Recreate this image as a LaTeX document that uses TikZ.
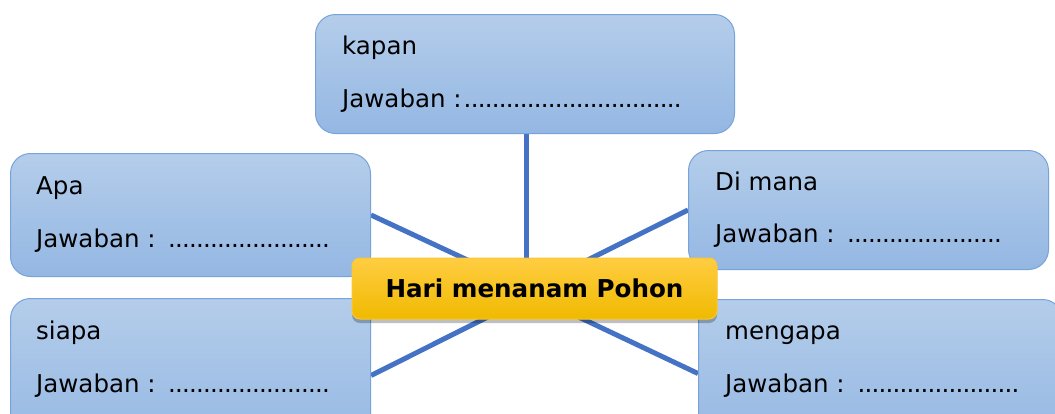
\documentclass[tikz,border=0pt]{standalone}
\usepackage{fontspec}
\setmainfont{DejaVu Sans}
\usetikzlibrary{backgrounds,shadows}
\definecolor{boxtop}{RGB}{180,205,234}
\definecolor{boxbot}{RGB}{148,183,227}
\definecolor{boxline}{RGB}{118,163,218}
\definecolor{hubtop}{RGB}{255,205,66}
\definecolor{hubbot}{RGB}{240,186,0}
\definecolor{hubline}{RGB}{250,200,50}
\definecolor{linkblue}{RGB}{68,114,196}
\newcommand{\ansdots}[1]{\makebox[#1][l]{\cleaders\hbox to 7pt{\hss.\hss}\hfill}}
\tikzset{
  qbox/.style={draw=boxline, line width=1pt, rounded corners=20pt, top color=boxtop, bottom color=boxbot, anchor=north west, inner sep=0pt},
  qtext/.style={anchor=base west, inner sep=0pt, font=\fontsize{24.5}{29}\selectfont, text=black},
  hubbox/.style={draw=hubline, line width=1pt, rounded corners=8pt, top color=hubtop, bottom color=hubbot, inner sep=0pt,
    font=\fontsize{24.6}{29}\selectfont\bfseries,
    drop shadow={shadow xshift=0pt, shadow yshift=-4pt, opacity=0.25, fill=black}},
  link/.style={draw=linkblue, line width=5pt}
}
\begin{document}
\begin{tikzpicture}[x=1pt, y=-1pt]
\useasboundingbox (0,0) rectangle (1055,413);
\clip (0,0) rectangle (1055,413);
% boxes
\node[qbox, minimum width=419pt, minimum height=119pt] (kapan) at (315,14) {};
\node[qbox, minimum width=360pt, minimum height=123pt] (apa) at (10,153) {};
\node[qbox, minimum width=360pt, minimum height=119pt] (dimana) at (688,150) {};
\node[qbox, minimum width=360pt, minimum height=154pt] (siapa) at (10,298) {};
\node[qbox, minimum width=364pt, minimum height=148pt] (mengapa) at (698,299) {};
% texts
\node[qtext] (t1a) at (342,54) {kapan};
\node[qtext] (t1b) at (342,107) {Jawaban :\ansdots{222pt}};
\node[qtext] (t2a) at (36,194) {Apa};
\node[qtext] (t2b) at (36,247) {Jawaban : \ansdots{166pt}};
\node[qtext] (t3a) at (715,190) {Di mana};
\node[qtext] (t3b) at (715,242) {Jawaban : \ansdots{159pt}};
\node[qtext] (t4a) at (36,339) {siapa};
\node[qtext] (t4b) at (36,392) {Jawaban : \ansdots{166pt}};
\node[qtext] (t5a) at (725,339) {mengapa};
\node[qtext] (t5b) at (725,392) {Jawaban : \ansdots{167pt}};
% hub
\node[hubbox, minimum width=365pt, minimum height=61pt] (hub) at (534.5,288.5) {Hari menanam Pohon};
% connectors
\begin{scope}[on background layer]
\draw[link] (kapan.south) ++(1.5,0) -- ([xshift=1.5pt]kapan.south |- hub.center);
\draw[link] (apa.east) -- ([xshift=-6pt]hub.center);
\draw[link] (dimana.west) -- ([xshift=-4pt]hub.center);
\draw[link] (siapa.east) -- ([xshift=10pt]hub.center);
\draw[link] (mengapa.west) -- ([xshift=-16pt]hub.center);
\end{scope}
\end{tikzpicture}
\end{document}
